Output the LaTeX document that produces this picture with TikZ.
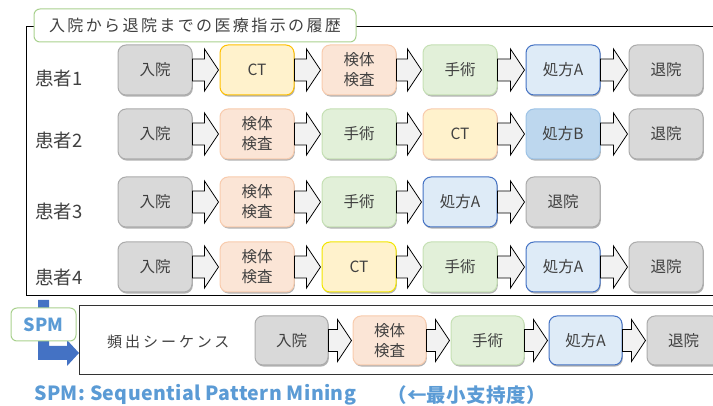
\documentclass[tikz,border=0pt]{standalone}
\usepackage{fontspec}
\setmainfont{Noto Sans CJK JP}
\newfontfamily\jpsp[LetterSpace=15]{Noto Sans CJK JP}
\newfontfamily\jpspw[LetterSpace=20]{Noto Sans CJK JP}
\newfontfamily\capfont[LetterSpace=2]{Noto Sans CJK JP}
\usetikzlibrary{calc,shadows}
\definecolor{txt}{HTML}{404040}
\definecolor{grF}{HTML}{D9D9D9}\definecolor{grD}{HTML}{ABABAB}
\definecolor{ctF}{HTML}{FFF2CC}\definecolor{ctD}{HTML}{FFC000}
\definecolor{ctDp}{HTML}{F8CBAD}\definecolor{ctDy}{HTML}{F2E600}
\definecolor{kkF}{HTML}{FBE5D6}\definecolor{kkD}{HTML}{F8CBAD}
\definecolor{ssF}{HTML}{E2F0D9}\definecolor{ssD}{HTML}{C5E0B4}
\definecolor{paF}{HTML}{DEEBF7}\definecolor{paD}{HTML}{4472C4}
\definecolor{pbF}{HTML}{BDD7EE}\definecolor{pbD}{HTML}{9DC3E6}
\definecolor{arF}{HTML}{F2F2F2}
\definecolor{grn}{HTML}{A9D18E}
\definecolor{spmblue}{HTML}{5B9BD5}
\definecolor{darkblue}{HTML}{4472C4}
\tikzset{
 box/.style={rounded corners=8pt, minimum width=74pt, minimum height=50pt, line width=1pt,
   align=center, font=\fontsize{15.5}{20}\selectfont, text=txt, inner sep=0pt,
   drop shadow={shadow xshift=0.8pt, shadow yshift=-1.6pt, fill=black, opacity=0.3}},
 sbox/.style={box, minimum width=73pt, minimum height=49pt},
 nyu/.style={fill=grF, draw=grD},
 ct/.style={fill=ctF, draw=ctD},
 kk/.style={fill=kkF, draw=kkD},
 ss/.style={fill=ssF, draw=ssD},
 pa/.style={fill=paF, draw=paD},
 pb/.style={fill=pbF, draw=pbD},
 barr/.style={fill=arF, draw=black, line width=0.8pt, line join=miter},
 plabel/.style={anchor=west, font=\fontsize{18.5}{20}\selectfont, text=txt, inner sep=0pt},
 tag/.style={draw=grn, line width=1pt, fill=white, rounded corners=6pt, inner sep=0pt},
 captxt/.style={anchor=west, inner sep=0pt, text=spmblue, font=\capfont\bfseries\fontsize{19.5}{22}\selectfont},
}
\newcommand\barrow[2]{\path[barr] let \p1=(#1.east), \p2=(#2.west) in
 (\x1,\y1+11pt) -- (\x2-15pt,\y1+11pt) -- (\x2-15pt,\y1+21pt) -- (\x2-1pt,\y1)
 -- (\x2-15pt,\y1-21pt) -- (\x2-15pt,\y1-11pt) -- (\x1,\y1-11pt) -- cycle;}
\begin{document}
\begin{tikzpicture}[x=1pt,y=-1pt]
\path[use as bounding box] (0,0) rectangle (713,406);
\clip (0,0) rectangle (713,406);
% history frame
\draw[line width=1pt] (720,27) -- (26,27) -- (26,296) -- (720,296);
\node[tag, minimum width=322pt, minimum height=33pt, font=\jpsp\fontsize{16}{18}\selectfont, text=txt] (title) at (195,25.5) {入院から退院までの医療指示の履歴};
% patient labels
\node[plabel] (p1) at (35,78) {患者1};
\node[plabel] (p2) at (35,140) {患者2};
\node[plabel] (p3) at (35,211) {患者3};
\node[plabel] (p4) at (35,277) {患者4};
% row 1
\node[box,nyu] (a1) at (155,70) {入院};
\node[box,ct]  (a2) at (257,70) {CT};
\node[box,kk]  (a3) at (359,70) {検体\\検査};
\node[box,ss]  (a4) at (460,70) {手術};
\node[box,pa]  (a5) at (563,70) {処方A};
\node[box,nyu] (a6) at (666,70) {退院};
\barrow{a1}{a2}\barrow{a2}{a3}\barrow{a3}{a4}\barrow{a4}{a5}\barrow{a5}{a6}
% row 2
\node[box,nyu] (b1) at (155,134) {入院};
\node[box,kk]  (b2) at (257,134) {検体\\検査};
\node[box,ss]  (b3) at (359,134) {手術};
\node[box,fill=ctF,draw=ctDp] (b4) at (460,134) {CT};
\node[box,pb]  (b5) at (563,134) {処方B};
\node[box,nyu] (b6) at (666,134) {退院};
\barrow{b1}{b2}\barrow{b2}{b3}\barrow{b3}{b4}\barrow{b4}{b5}\barrow{b5}{b6}
% row 3
\node[box,nyu] (c1) at (155,202) {入院};
\node[box,kk]  (c2) at (257,202) {検体\\検査};
\node[box,ss]  (c3) at (359,202) {手術};
\node[box,pa]  (c4) at (460,202) {処方A};
\node[box,nyu] (c5) at (563,202) {退院};
\barrow{c1}{c2}\barrow{c2}{c3}\barrow{c3}{c4}\barrow{c4}{c5}
% row 4
\node[box,nyu] (d1) at (155,267) {入院};
\node[box,kk]  (d2) at (257,267) {検体\\検査};
\node[box,fill=ctF,draw=ctDy] (d3) at (359,267) {CT};
\node[box,ss]  (d4) at (460,267) {手術};
\node[box,pa]  (d5) at (563,267) {処方A};
\node[box,nyu] (d6) at (666,267) {退院};
\barrow{d1}{d2}\barrow{d2}{d3}\barrow{d3}{d4}\barrow{d4}{d5}\barrow{d5}{d6}
% SPM arrow
\fill[darkblue] (38,300) -- (49,300) -- (49,346) -- (67,346) -- (67,340) -- (79,353)
 -- (67,366) -- (67,360) -- (38,360) -- cycle;
\node[tag, minimum width=65pt, minimum height=33pt, font=\bfseries\fontsize{18}{20}\selectfont, text=spmblue] (spm) at (43.5,324.5) {SPM};
% frequent sequence frame
\draw[line width=1pt, draw=black!80] (720,306) -- (79,306) -- (79,375) -- (720,375);
\node[anchor=west, inner sep=0pt, text=txt, font=\jpspw\fontsize{15}{18}\selectfont] (fs) at (107,342) {頻出シーケンス};
\node[sbox,nyu] (e1) at (291.5,340.5) {入院};
\node[sbox,kk]  (e2) at (389.5,340.5) {検体\\検査};
\node[sbox,ss]  (e3) at (487.5,340.5) {手術};
\node[sbox,pa]  (e4) at (585.5,340.5) {処方A};
\node[sbox,nyu] (e5) at (683.5,340.5) {退院};
\barrow{e1}{e2}\barrow{e2}{e3}\barrow{e3}{e4}\barrow{e4}{e5}
% bottom caption
\node[captxt] (cap) at (34,395) {SPM: Sequential Pattern Mining};
\node[captxt] (cap2) at (387,395) {（←最小支持度）};
\end{tikzpicture}
\end{document}
